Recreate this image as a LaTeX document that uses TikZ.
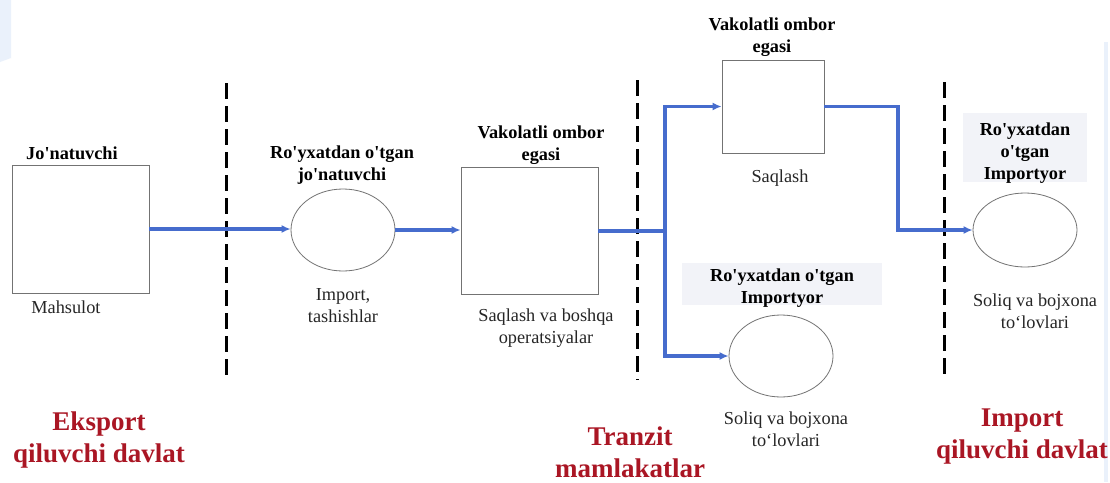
\documentclass[tikz,border=0pt]{standalone}
\usepackage{fontspec}
\setmainfont{Liberation Serif}[Ligatures=TeXOff]
\usetikzlibrary{arrows.meta,shapes.geometric}
\definecolor{flowblue}{RGB}{70,108,205}
\definecolor{boxgray}{RGB}{115,115,115}
\definecolor{labelbg}{RGB}{242,243,248}
\definecolor{darkred}{RGB}{170,22,36}
\definecolor{paleblue}{RGB}{234,241,251}
\tikzset{
  sq/.style={draw=boxgray, line width=0.8pt, minimum width=#1, inner sep=0pt},
  ov/.style={ellipse, draw=boxgray, line width=0.8pt, inner sep=0pt},
  head/.style={font=\fontsize{18.3}{22}\selectfont\bfseries, align=center, inner sep=0pt},
  note/.style={font=\fontsize{18.3}{22}\selectfont, align=center, inner sep=0pt, text=black!85},
  region/.style={font=\fontsize{27}{32}\selectfont\bfseries, align=center, inner sep=0pt, text=darkred},
  flow/.style={draw=flowblue, line width=3.2pt, -{Latex[length=9pt,width=8pt]}},
  flowline/.style={draw=flowblue, line width=3.2pt},
  border/.style={draw=black, line width=3pt, dash pattern=on 16pt off 7pt},
}
\begin{document}
\begin{tikzpicture}[x=1pt,y=-1pt]
\useasboundingbox (0,0) rectangle (1110,482);
\fill[white] (0,0) rectangle (1110,482);
% faint decorations
\fill[paleblue] (0,0) -- (11,0) -- (11,58) -- (0,62) -- cycle;
\fill[paleblue] (1104,42) rectangle (1108,482);

% label backgrounds
\fill[labelbg] (682,263) rectangle (882,305);
\fill[labelbg] (963,113) rectangle (1087,182);

% border lines
\coordinate (d1t) at (226,83);  \coordinate (d1b) at (226,382);
\coordinate (d2t) at (637,80);  \coordinate (d2b) at (637,380);
\coordinate (d3t) at (944,82);  \coordinate (d3b) at (944,380);
\draw[border] (d1t) -- (d1b);
\draw[border] (d2t) -- (d2b);
\draw[border] (d3t) -- (d3b);

% nodes
\node[sq=137pt, minimum height=128pt] (box1) at (80.5,229) {};
\node[ov, minimum width=104pt, minimum height=82pt] (ell1) at (343,230) {};
\node[sq=137pt, minimum height=127pt] (box2) at (529.5,231) {};
\node[sq=102pt, minimum height=93pt] (box3) at (773,106.5) {};
\node[ov, minimum width=104pt, minimum height=82pt] (ell2) at (781,356) {};
\node[ov, minimum width=104pt, minimum height=74pt] (ell3) at (1025,230) {};

\coordinate (split) at (665,231);
\coordinate (bend) at (898,170);

% labels
\node[head] (t1) at (72,153) {Jo'natuvchi};
\node[note] (n1) at (66,307) {Mahsulot};
\node[head] (t2) at (342,165) {Ro'yxatdan o'tgan\\jo'natuvchi};
\node[note] (n2) at (343,306) {Import,\\tashishlar};
\node[head] (t3) at (541,145) {Vakolatli ombor\\egasi};
\node[note] (n3) at (546,328) {Saqlash va boshqa\\operatsiyalar};
\node[head] (t4) at (772,37) {Vakolatli ombor\\egasi};
\node[note] (n4) at (780,178) {Saqlash};
\node[head] (t5) at (782,288) {Ro'yxatdan o'tgan\\Importyor};
\node[note] (n5) at (786,429) {Soliq va bojxona\\to‘lovlari};
\node[head] (t6) at (1025,153) {Ro'yxatdan\\o'tgan\\Importyor};
\node[note] (n6) at (1035,311) {Soliq va bojxona\\to‘lovlari};

\node[region] (r1) at (99,440) {Eksport\\qiluvchi davlat};
\node[region] (r2) at (630,452) {Tranzit\\mamlakatlar};
\node[region] (r3) at (1022,437) {Import\\qiluvchi davlat};

% connectors
\draw[flow] (box1.east) -- (box1.east -| ell1.west);
\draw[flow] (ell1.east) -- (ell1.east -| box2.west);
\draw[flowline] (box2.east) -- (split);
\draw[flow] (split) |- (box3.west);
\draw[flow] (split) |- (ell2.west);
\draw[flow] (box3.east) -| (bend) |- (ell3.west);
\end{tikzpicture}
\end{document}
